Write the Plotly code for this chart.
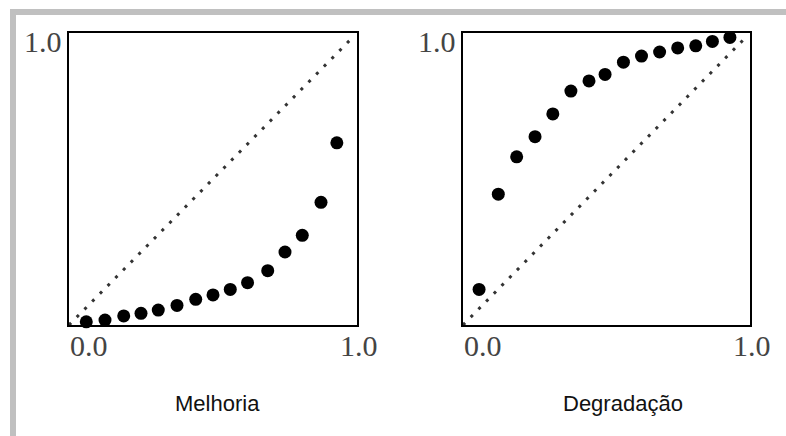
import plotly.graph_objects as go

# Melhoria panel: cumulative curve below the diagonal
melhoria_x = [0.06, 0.125, 0.19, 0.25, 0.31, 0.375, 0.44, 0.5, 0.56, 0.62, 0.69, 0.75, 0.81, 0.875, 0.93]
melhoria_y = [0.011, 0.017, 0.031, 0.040, 0.051, 0.067, 0.088, 0.103, 0.122, 0.145, 0.186, 0.250, 0.307, 0.420, 0.624]

# Degradação panel: cumulative curve above the diagonal
degradacao_x = [0.056, 0.123, 0.187, 0.251, 0.313, 0.376, 0.439, 0.495, 0.559, 0.622, 0.685, 0.748, 0.811, 0.869, 0.93]
degradacao_y = [0.122, 0.448, 0.576, 0.645, 0.723, 0.801, 0.836, 0.858, 0.900, 0.921, 0.935, 0.949, 0.956, 0.971, 0.985]

diag = [0.0, 0.975]
tick_lo, tick_hi = "0.0", "1.0"
panel_titles = ["Melhoria", "Degradação"]

W, H = 786, 436

def px_x(p):
    return p / W

def px_y(p):
    return 1 - p / H

fig = go.Figure()

panels = [
    ("x", "y", melhoria_x, melhoria_y),
    ("x2", "y2", degradacao_x, degradacao_y),
]

for xa, ya, xs, ys in panels:
    fig.add_trace(go.Scatter(
        x=diag, y=diag, xaxis=xa, yaxis=ya, mode="lines",
        line=dict(color="#333333", width=3, dash="3px,8px"),
        hoverinfo="skip", showlegend=False,
    ))
    fig.add_trace(go.Scatter(
        x=xs, y=ys, xaxis=xa, yaxis=ya, mode="markers",
        marker=dict(color="black", size=13),
        cliponaxis=False, showlegend=False,
    ))

axis_common = dict(
    range=[0, 1], showgrid=False, zeroline=False, showticklabels=False,
    ticks="", showline=True, linecolor="black", linewidth=2, mirror=True,
    fixedrange=True,
)

ydom = [px_y(325), px_y(33)]
fig.update_layout(
    width=W, height=H,
    margin=dict(l=0, r=0, t=0, b=0),
    paper_bgcolor="white", plot_bgcolor="white",
    xaxis=dict(domain=[px_x(69), px_x(357)], anchor="y", **axis_common),
    yaxis=dict(domain=ydom, anchor="x", **axis_common),
    xaxis2=dict(domain=[px_x(463), px_x(750)], anchor="y2", **axis_common),
    yaxis2=dict(domain=ydom, anchor="x2", **axis_common),
)

tick_font = dict(family="Liberation Serif, Times New Roman, serif", size=30, color="#444444")
title_font = dict(family="Liberation Sans, Arial, sans-serif", size=22, color="#111111")

annotations = []
for xa, ya, _, _ in panels:
    annotations += [
        dict(x=0, y=1, xref=xa, yref=ya, text=tick_hi, showarrow=False,
             xanchor="right", yanchor="top", xshift=-5, yshift=10, font=tick_font),
        dict(x=0, y=0, xref=xa, yref=ya, text=tick_lo, showarrow=False,
             xanchor="left", yanchor="top", xshift=-1, yshift=-2, font=tick_font),
        dict(x=1, y=0, xref=xa, yref=ya, text=tick_hi, showarrow=False,
             xanchor="center", yanchor="top", xshift=2, yshift=-2, font=tick_font),
    ]

annotations += [
    dict(x=px_x(217), y=px_y(403), xref="paper", yref="paper", text=panel_titles[0],
         showarrow=False, xanchor="center", yanchor="middle", font=title_font),
    dict(x=px_x(623), y=px_y(403), xref="paper", yref="paper", text=panel_titles[1],
         showarrow=False, xanchor="center", yanchor="middle", font=title_font),
]
fig.update_layout(annotations=annotations)

# Light gray frame strips along the top and left edges
fig.update_layout(shapes=[
    dict(type="rect", xref="paper", yref="paper", x0=px_x(10), x1=1, y0=px_y(15), y1=px_y(9),
         fillcolor="#c0c0c0", line=dict(width=0), layer="below"),
    dict(type="rect", xref="paper", yref="paper", x0=px_x(10), x1=px_x(16), y0=0, y1=px_y(9),
         fillcolor="#c0c0c0", line=dict(width=0), layer="below"),
])

fig.write_html("out.html")
